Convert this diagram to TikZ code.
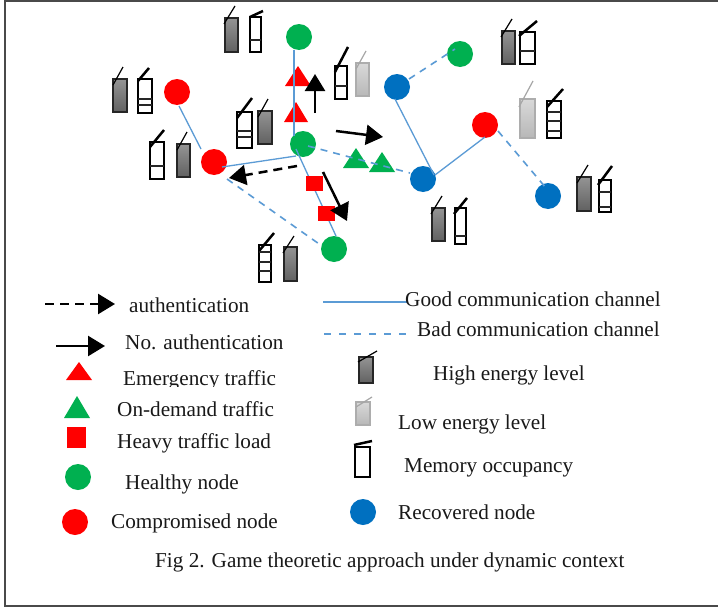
\documentclass[tikz,border=0pt]{standalone}
\usepackage{fontspec}
\setmainfont{Liberation Serif}
\usetikzlibrary{arrows.meta,shadings}
\definecolor{linkblue}{HTML}{5B9BD5}
\definecolor{nodegreen}{HTML}{00B050}
\definecolor{noderedc}{HTML}{FF0000}
\definecolor{nodeblue}{HTML}{0070C0}
\definecolor{framegray}{HTML}{4A4A4A}
\tikzset{
  nd/.style={circle,minimum size=26pt,inner sep=0pt,draw=none},
  healthy/.style={nd,fill=nodegreen},
  compromised/.style={nd,fill=noderedc},
  recovered/.style={nd,fill=nodeblue},
  good/.style={draw=linkblue,line width=1.3pt},
  bad/.style={draw=linkblue,line width=1.6pt,dash pattern=on 7pt off 6pt},
  solidarrow/.style={draw=black,line width=2.5pt,-{Triangle[length=17pt,width=20pt]}},
  dasharrow/.style={draw=black,line width=2.5pt,dash pattern=on 9pt off 6pt,-{Triangle[length=17pt,width=20pt]}},
  lab/.style={anchor=base west,inner sep=0pt,font=\fontsize{21.2}{24}\selectfont,text=black!90},
}
% gray/high energy device: x1 y1 x2 y2, antenna xa ya xb yb
\newcommand\hidev[8]{%
  \shade[top color=black!42,bottom color=black!62,draw=black!85,line width=1.2pt] (#1,#2) rectangle (#3,#4);
  \draw[black,line width=1.2pt] (#5,#6) -- (#7,#8);}
\newcommand\lodev[8]{%
  \shade[top color=black!15,bottom color=black!28,draw=black!32,line width=1.2pt] (#1,#2) rectangle (#3,#4);
  \draw[black!35,line width=1.2pt] (#5,#6) -- (#7,#8);}
% memory device: x1 y1 x2 y2, xa ya xb yb, partitions
\newcommand\memdev[9]{%
  \draw[black,line width=2.5pt,fill=white] (#1,#2) rectangle (#3,#4);
  \draw[black,line width=2.5pt] (#5,#6) -- (#7,#8);
  \foreach \py in {#9}{\draw[black!85,line width=1.6pt] (#1,\py) -- (#3,\py);}}
\newcommand\mktri[5]{\fill[#5] (#1,#2) -- (#3,#4) -- (2*#1-#3,#4) -- cycle;}
\begin{document}
\begin{tikzpicture}[x=1pt,y=-1pt]
\useasboundingbox (0,0) rectangle (718,608);
\fill[white] (0,0) rectangle (718,608);
\draw[framegray,line width=1.8pt] (718,0.6) -- (4.6,0.6) -- (4.6,605.6) -- (718,605.6);

% network nodes
\node[healthy] (g1) at (299,37) {};
\node[healthy] (g2) at (303,144) {};
\node[healthy] (g3) at (334,249) {};
\node[healthy] (g4) at (460,54) {};
\node[compromised] (r1) at (177,92) {};
\node[compromised] (r2) at (214,162) {};
\node[compromised] (r3) at (485,125) {};
\node[recovered] (b1) at (397,87) {};
\node[recovered] (b2) at (423,179) {};
\node[recovered] (b3) at (548,196) {};

% traffic markers under the links
\mktri{298}{66}{311}{86}{noderedc}
\mktri{296}{102}{308}{122}{noderedc}
\mktri{356}{148}{369}{168}{nodegreen}
\mktri{382}{152}{395}{172}{nodegreen}

% links
\draw[good] ([shift={(-5,13)}]g1.center) -- ([shift={(-9,-8)}]g2.center);
\draw[good] ([shift={(2,14)}]r1.center) -- ([shift={(-13,-13)}]r2.center);
\draw[good] ([shift={(8,5)}]r2.center) -- ([shift={(-7,12)}]g2.center);
\draw[good] ([shift={(-7,5)}]g2.center) -- ([shift={(2,-13)}]g3.center);
\draw[good] ([shift={(-2,12)}]b1.center) -- ([shift={(11,-4)}]b2.center);
\draw[good] ([shift={(12,-4)}]b2.center) -- ([shift={(0,12)}]r3.center);
\draw[bad] ([shift={(13,17)}]r2.center) -- ([shift={(-12,-3)}]g3.center);
\draw[bad] ([shift={(5,2)}]g2.center) -- ([shift={(-13,-6)}]b2.center);
\draw[bad] ([shift={(12,-8)}]b1.center) -- ([shift={(-5,-5)}]g4.center);
\draw[bad] ([shift={(13,6)}]r3.center) -- ([shift={(-2,-8)}]b3.center);

% heavy traffic markers over the links
\fill[noderedc] (306,176) rectangle (323,191);
\fill[noderedc] (318,206) rectangle (335,221);

% network arrows
\coordinate (a1s) at (315,113); \coordinate (a1e) at (315,74);
\coordinate (a2s) at (336,131); \coordinate (a2e) at (383,137);
\coordinate (a3s) at (323,172); \coordinate (a3e) at (347,221);
\coordinate (a4s) at (297,166); \coordinate (a4e) at (229,178);
\draw[solidarrow] (a1s) -- (a1e);
\draw[solidarrow] (a2s) -- (a2e);
\draw[solidarrow] (a3s) -- (a3e);
\draw[dasharrow] (a4s) -- (a4e);

% devices
\hidev{225}{18}{238}{52}{224}{24}{235}{6}
\memdev{250}{17}{261}{52}{250}{17}{263}{11}{40}
\memdev{335}{66}{347}{99}{335}{72}{348}{47}{86}
\lodev{356}{63}{369}{96}{356}{69}{366}{51}
\hidev{113}{79}{127}{112}{113}{85}{123}{67}
\memdev{138}{79}{152}{113}{138}{81}{149}{68}{99,105}
\memdev{237}{112}{252}{148}{237}{118}{252}{98}{131,137}
\hidev{258}{111}{272}{144}{258}{117}{268}{99}
\memdev{150}{142}{164}{179}{150}{147}{164}{130}{166}
\hidev{177}{144}{190}{177}{177}{150}{187}{132}
\memdev{259}{245}{271}{282}{259}{251}{274}{233}{252,262,271}
\hidev{284}{247}{297}{281}{283}{253}{294}{236}
\hidev{502}{31}{515}{64}{501}{37}{512}{19}
\memdev{520}{32}{535}{64}{519}{36}{537}{21}{51}
\lodev{520}{99}{535}{138}{519}{107}{533}{81}
\memdev{547}{101}{561}{138}{547}{107}{563}{89}{112,121,131}
\hidev{577}{177}{591}{211}{577}{183}{588}{165}
\memdev{599}{180}{611}{212}{598}{185}{612}{166}{192,207}
\hidev{432}{208}{445}{241}{431}{214}{442}{196}
\memdev{455}{208}{466}{244}{454}{214}{467}{198}{236}

% legend left
\coordinate (la1s) at (45,304); \coordinate (la1e) at (115,304);
\coordinate (la2s) at (56,346); \coordinate (la2e) at (105,346);
\draw[dasharrow] (la1s) -- (la1e);
\draw[solidarrow] (la2s) -- (la2e);
\mktri{79}{362}{92}{380}{noderedc}
\mktri{77}{396}{90}{418}{nodegreen}
\fill[noderedc] (67,427) rectangle (86,448);
\node[healthy] (lh) at (78,477) {};
\node[compromised] (lc) at (75,522) {};
\node[lab] (t1) at (129,312) {authentication};
\node[lab] (t2) at (125,349) {No. authentication};
\begin{scope}
\clip (100,360) rectangle (300,386.5);
\node[lab] (t3) at (123,385) {Emergency traffic};
\end{scope}
\node[lab] (t4) at (117,416) {On-demand traffic};
\node[lab] (t5) at (117,448) {Heavy traffic load};
\node[lab] (t6) at (125,489) {Healthy node};
\node[lab] (t7) at (111,528) {Compromised node};

% legend right
\coordinate (ll1s) at (323,302); \coordinate (ll1e) at (407,302);
\coordinate (ll2s) at (324,334); \coordinate (ll2e) at (411,334);
\draw[good] (ll1s) -- (ll1e);
\draw[bad,dash pattern=on 7pt off 8pt] (ll2s) -- (ll2e);
\hidev{359}{357}{373}{383}{358}{362}{377}{351}
\lodev{356}{402}{370}{425}{356}{407}{372}{397}
\memdev{355}{447}{370}{477}{354}{445}{372}{441}{}
\node[recovered] (lr) at (363,512) {};
\node[lab] (t8) at (405,306) {Good communication channel};
\node[lab] (t9) at (417,336) {Bad communication channel};
\node[lab] (t10) at (433,380) {High energy level};
\node[lab] (t11) at (398,429) {Low energy level};
\node[lab] (t12) at (404,472) {Memory occupancy};
\node[lab] (t13) at (398,519) {Recovered node};
\node[lab] (cap) at (155,567) {Fig 2. Game theoretic approach under dynamic context};
\end{tikzpicture}
\end{document}
